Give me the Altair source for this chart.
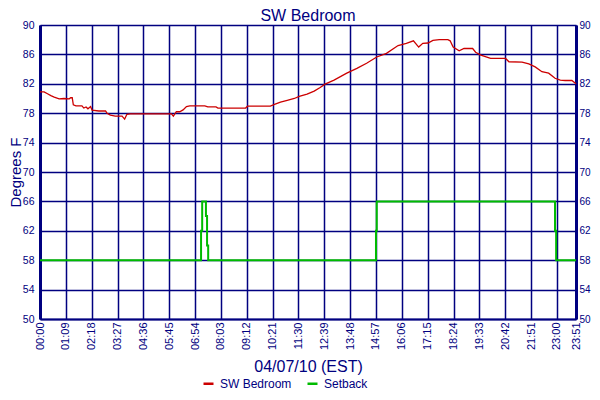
import altair as alt
import pandas as pd

NAVY = "#000080"
FONT = "Liberation Sans"

tick_labels = ["00:00", "01:09", "02:18", "03:27", "04:36", "05:45", "06:54", "08:03",
               "09:12", "10:21", "11:30", "12:39", "13:48", "14:57", "16:06", "17:15",
               "18:24", "19:33", "20:42", "21:51", "23:00", "23:51"]
tick_values = [int(t[:2]) * 60 + int(t[3:]) for t in tick_labels]
y_ticks = [50, 54, 58, 62, 66, 70, 74, 78, 82, 86, 90]

# SW Bedroom temperature (minutes after midnight, degrees F)
temp_minutes = [0, 11, 20, 29, 38, 51, 64, 78, 82, 86, 89, 96, 112, 117, 123, 128, 135, 139,
                157, 175, 179, 188, 201, 219, 226, 232, 241, 289, 351, 356, 364, 373, 382,
                391, 400, 440, 448, 470, 475, 549, 554, 615, 626, 642, 660, 679, 692, 713,
                732, 748, 761, 785, 819, 846, 872, 899, 925, 956, 978, 997, 1011, 1022,
                1036, 1049, 1066, 1089, 1095, 1103, 1119, 1132, 1155, 1163, 1177, 1203,
                1243, 1252, 1287, 1305, 1322, 1340, 1358, 1375, 1389, 1402, 1420, 1431]
temp_values = [80.9, 80.9, 80.65, 80.4, 80.2, 79.95, 80.0, 79.95, 80.1, 80.1, 79.15, 79.0,
               79.0, 78.7, 78.85, 78.6, 78.9, 78.4, 78.3, 78.3, 78.0, 77.75, 77.6, 77.6,
               77.2, 77.85, 77.9, 77.9, 77.9, 77.6, 78.2, 78.2, 78.45, 78.9, 79.0, 79.0,
               78.85, 78.85, 78.7, 78.7, 78.95, 78.95, 79.2, 79.5, 79.75, 80.0, 80.3, 80.6,
               81.0, 81.5, 81.95, 82.5, 83.45, 84.1, 84.8, 85.65, 86.15, 87.2, 87.5, 87.85,
               87.0, 87.5, 87.55, 87.9, 88.0, 88.0, 87.85, 87.0, 86.5, 86.8, 86.8, 86.3,
               85.9, 85.45, 85.45, 85.0, 84.95, 84.7, 84.3, 83.65, 83.45, 82.75, 82.5,
               82.45, 82.45, 82.0]

# Setback (step)
setback_minutes = [0, 430, 433, 443, 446, 449, 897, 899, 1375, 1378, 1431]
setback_values = [58, 62, 66, 64, 60, 58, 62, 66, 62, 58, 58]

temp_df = pd.DataFrame({"minute": temp_minutes, "value": temp_values, "series": "SW Bedroom"})
setback_df = pd.DataFrame({"minute": setback_minutes, "value": setback_values, "series": "Setback"})

color_scale = alt.Scale(domain=["SW Bedroom", "Setback"], range=["#cc0000", "#00bb00"])
legend = alt.Legend(title=None, orient="none", legendX=162, legendY=352, direction="horizontal",
                    symbolType="stroke", symbolSize=100, symbolStrokeWidth=2.5,
                    labelColor=NAVY, labelFont=FONT, labelFontSize=12, labelOffset=5,
                    columnPadding=10, padding=0)

x_enc = alt.X("minute:Q",
              scale=alt.Scale(domain=[0, 1431], nice=False, zero=False),
              axis=alt.Axis(values=tick_values,
                            labelExpr="format(floor(datum.value/60),'02d') + ':' + format(datum.value%60,'02d')",
                            labelAngle=-90, labelAlign="right", labelBaseline="middle",
                            title="04/07/10 (EST)", grid=True, gridColor=NAVY, gridWidth=1.5,
                            gridOpacity=1, domainColor=NAVY, domainWidth=2, ticks=False,
                            tickSize=0, labelColor=NAVY, labelFont=FONT, labelFontSize=11,
                            labelPadding=3, labelOverlap=False, labelFlush=False,
                            titleFont=FONT, titleFontSize=16, titleFontWeight="normal",
                            titleColor=NAVY, titlePadding=9))

y_scale = alt.Scale(domain=[50, 90], nice=False, zero=False)

setback = alt.Chart(setback_df).mark_line(interpolate="step-after", strokeWidth=2).encode(
    x=x_enc,
    y=alt.Y("value:Q", scale=y_scale,
            axis=alt.Axis(orient="left", values=y_ticks, title="Degrees F", grid=True,
                          gridColor=NAVY, gridWidth=1.5, gridOpacity=1, domainColor=NAVY,
                          domainWidth=3, ticks=False, tickSize=0, labelColor=NAVY,
                          labelFont=FONT, labelFontSize=10.5, labelPadding=6,
                          titleFont=FONT, titleFontSize=15, titleFontWeight="normal",
                          titleColor=NAVY, titleAngle=270, titleBaseline="alphabetic",
                          titleAlign="center", titleX=-20, titleY=147)),
    color=alt.Color("series:N", scale=color_scale, legend=legend),
)

temp = alt.Chart(temp_df).mark_line(strokeWidth=1.3).encode(
    x=x_enc,
    y=alt.Y("value:Q", scale=y_scale,
            axis=alt.Axis(orient="right", values=y_ticks, title="", grid=False,
                          domainColor=NAVY, domainWidth=3, ticks=False, tickSize=0,
                          labelColor=NAVY, labelFont=FONT, labelFontSize=10,
                          labelPadding=3)),
    color=alt.Color("series:N", scale=color_scale, legend=legend),
)

chart = alt.layer(setback, temp).resolve_scale(y="independent").properties(
    width=536, height=294,
    title=alt.TitleParams("SW Bedroom", font=FONT, fontSize=16, fontWeight="normal",
                          color=NAVY, anchor="middle", offset=4, dy=8),
    autosize=alt.AutoSizeParams(type="none"),
    padding={"left": 32, "top": 17, "right": 16, "bottom": 73},
).configure_view(stroke=NAVY, strokeWidth=1.5).configure(background="white")

chart.save("out.html", embed_options={"renderer": "svg", "actions": False})
